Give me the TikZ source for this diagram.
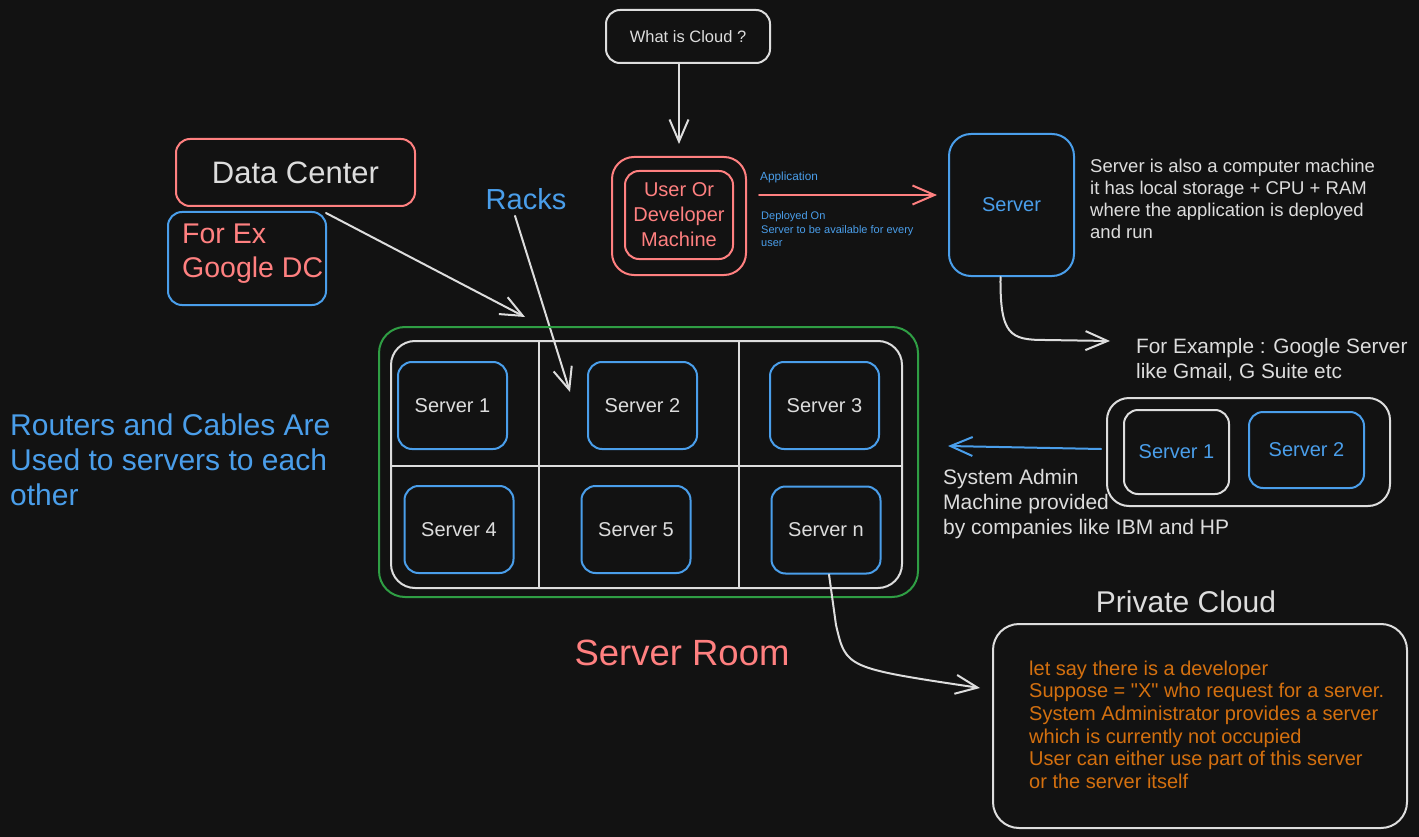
\documentclass[tikz,border=0pt]{standalone}
\usepackage{fontspec}
\setmainfont{Liberation Sans}
\newfontfamily\qf{Liberation Sans}
\usetikzlibrary{arrows.meta}
\definecolor{bg}{HTML}{121212}
\definecolor{wh}{HTML}{DDDDDD}
\definecolor{rd}{HTML}{FF8080}
\definecolor{bl}{HTML}{4A9EEA}
\definecolor{gr}{HTML}{2F9E44}
\definecolor{og}{HTML}{D4700F}
\newcommand{\fsz}[2]{\fontsize{#1}{#2}\selectfont}
\begin{document}
\begin{tikzpicture}[x=1pt,y=-1pt,
  box/.style={draw, rounded corners=14pt, line width=2pt, inner sep=0pt, align=center, text=wh},
  txt/.style={inner sep=0pt, align=left, text=wh},
  arr/.style={line width=2pt, line cap=round, -{Straight Barb[length=22pt,width=19pt,line width=2pt]}},
]
\fill[bg] (0,0) rectangle (1419,837);
\useasboundingbox (0,0) rectangle (1419,837);

% top
\node[box, draw=wh, minimum width=164, minimum height=53, font=\fsz{16.5}{20}] (q) at (688,36.5) {What is Cloud ?};
\node[box, draw=rd, minimum width=134, minimum height=118, rounded corners=22pt] (um) at (679,216) {};
\node[box, draw=rd, minimum width=108, minimum height=88, text=rd, font=\fsz{20}{25}] (ui) at (679,215) {User Or\\Developer\\Machine};
\draw[arr, wh] (um.north |- q.south) -- ([yshift=12pt]um.north);

\node[box, draw=bl, minimum width=125, minimum height=142, rounded corners=22pt, text=bl, font=\fsz{20}{24}] (srv) at (1011.5,205) {Server};
\draw[arr, rd] ([xshift=12pt,yshift=21pt]um.east) -- ([xshift=-11pt,yshift=10pt]srv.west);
\node[txt, text=bl, anchor=west, font=\fsz{11.8}{14}] (app) at (760,177) {Application};
\node[txt, text=bl, anchor=north west, font=\fsz{11}{13.5}] (dep) at (761,211.5) {Deployed On\\Server to be available for every\\user};

\node[txt, anchor=north west, font=\fsz{18.5}{22}] (sdesc) at (1090,159.3) {Server is also a computer machine\\it has local storage + CPU + RAM\\where the application is deployed\\and run};

\node[txt, anchor=north west, font=\fsz{20.8}{25}] (fe) at (1136,338.6) {For Example : Google Server\\like Gmail, G Suite etc};
\coordinate (feA) at (1110,341);
\draw[arr, wh] ([xshift=-11pt]srv.south) .. controls (1000,335) and (1010,340) .. (1045,340) -- (feA);

% server pair
\node[box, draw=wh, minimum width=283, minimum height=108, rounded corners=22pt] (ob) at (1248.5,452) {};
\node[box, draw=wh, minimum width=105, minimum height=84, text=bl, font=\fsz{20}{24}] (p1) at (1176.5,452) {Server 1};
\node[box, draw=bl, minimum width=115, minimum height=76, text=bl, font=\fsz{20}{24}] (p2) at (1306.5,450) {Server 2};
\coordinate (sysA) at (948,446);
\draw[arr, bl] ([xshift=-5pt,yshift=3pt]ob.west) -- (sysA);
\node[txt, anchor=north west, font=\fsz{21}{25}] (sys) at (943,469.5) {System Admin\\Machine provided\\by companies like IBM and HP};

% data center
\node[box, draw=rd, minimum width=239, minimum height=67, font=\fsz{31}{36}] (dc) at (295.5,172.5) {Data Center};
\node[box, draw=bl, minimum width=158, minimum height=93] (ex) at (247,258.5) {};
\node[txt, text=rd, anchor=north west, font=\fsz{28.5}{34}] (exT) at (182,223.7) {For Ex\\Google DC};
\coordinate (dcA) at (525,317);
\draw[arr, wh] ([xshift=-90pt,yshift=-6pt]dc.south east) -- (dcA);

\node[txt, text=bl, font=\fsz{29}{34}] (racks) at (526,199) {Racks};
\coordinate (rkA) at (570,392);
\draw[arr, wh] ([xshift=-11pt,yshift=-6pt]racks.south) -- (rkA);

% server room
\node[box, draw=gr, minimum width=539, minimum height=270, rounded corners=26pt] (room) at (648.5,462) {};
\node[box, draw=wh, minimum width=511, minimum height=247, rounded corners=24pt] (rack) at (646.5,464.5) {};
\draw[wh, line width=2pt] (539,341) -- (539,588);
\draw[wh, line width=2pt] (739,341) -- (739,588);
\draw[wh, line width=2pt] (391,466) -- (902,466);

\tikzset{sv/.style={box, draw=bl, minimum width=109, minimum height=87, font=\fsz{20}{24}}}
\node[sv] (s1) at (452.5,405.5) {Server 1};
\node[sv] (s2) at (642.5,405.5) {Server 2};
\node[sv] (s3) at (824.5,405.5) {Server 3};
\node[sv] (s4) at (459,529.5) {Server 4};
\node[sv] (s5) at (636,529.5) {Server 5};
\node[sv] (sn) at (826,530) {Server n};

\node[txt, text=rd, font=\fsz{36.5}{42}] (sroom) at (682,653) {Server Room};

\node[txt, text=bl, anchor=north west, font=\fsz{30}{35}] (rout) at (10,414) {Routers and Cables Are\\Used to servers to each\\other};

% private cloud
\node[txt, font=\fsz{30}{35}] (pct) at (1186,602) {Private Cloud};
\node[box, draw=wh, minimum width=414, minimum height=204, rounded corners=26pt] (pc) at (1200,726) {};
\node[txt, text=og, anchor=north west, font=\fsz{20}{22.6}] (pctext) at (1029,660.7) {let say there is a developer\\Suppose = {\qf"X"} who request for a server.\\System Administrator provides a server\\which is currently not occupied\\User can either use part of this server\\or the server itself};
\coordinate (pcA) at (980,688);
\draw[arr, wh] ([xshift=3pt]sn.south) -- (836,625) .. controls (846,668) .. (pcA);
\end{tikzpicture}
\end{document}
